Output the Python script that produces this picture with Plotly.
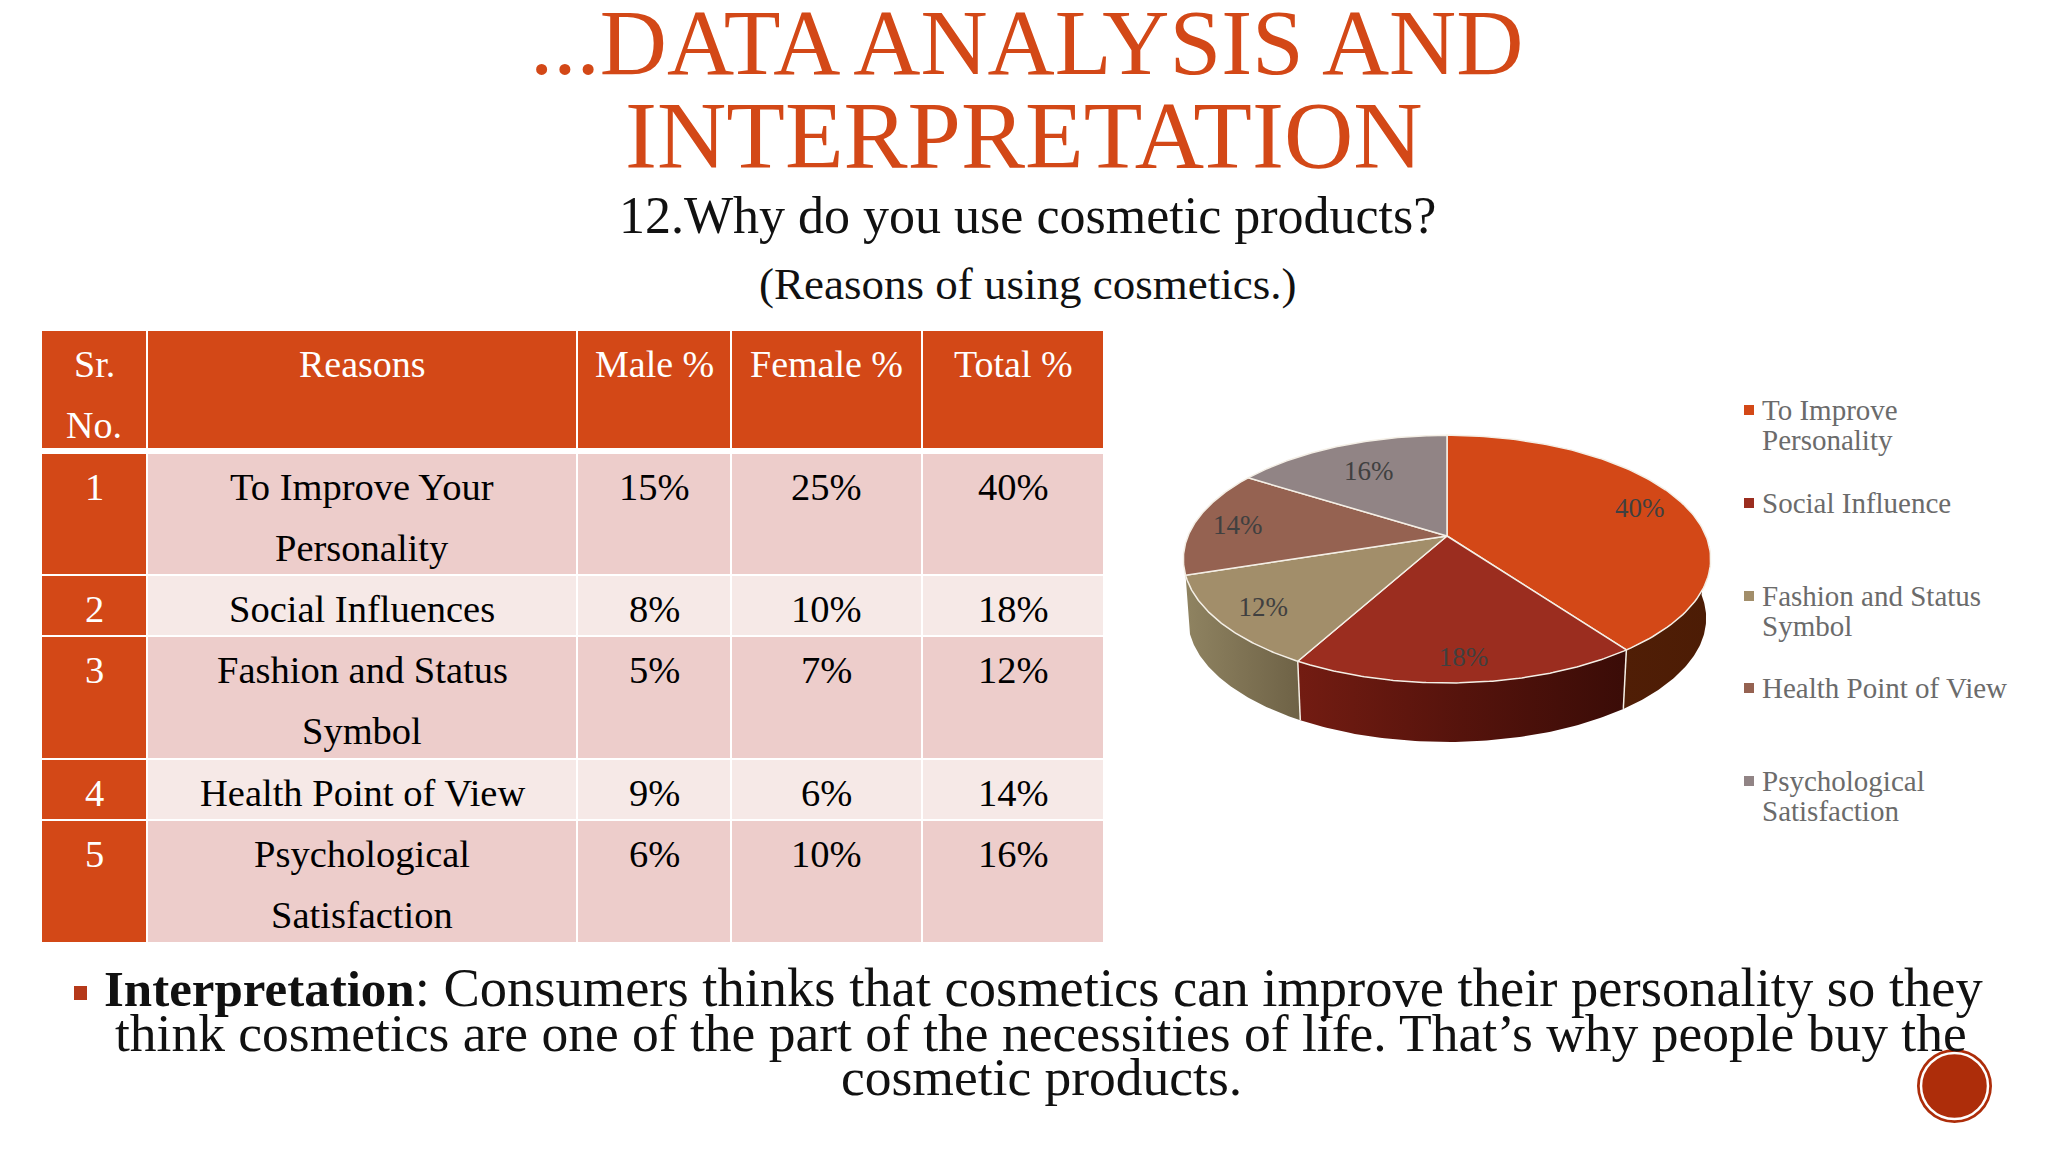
import numpy as np
import plotly.graph_objects as go

# значения таблицы и диаграммы
sr_no = ["1", "2", "3", "4", "5"]
reasons = ["To Improve Your\nPersonality", "Social Influences", "Fashion and Status\nSymbol",
           "Health Point of View", "Psychological\nSatisfaction"]
male_pct = [15, 8, 5, 9, 6]
female_pct = [25, 10, 7, 6, 10]
total_pct = [40, 18, 12, 14, 16]
header = ["Sr.\nNo.", "Reasons", "Male %", "Female %", "Total %"]
legend_labels = ["To Improve\nPersonality", "Social Influence", "Fashion and Status\nSymbol",
                 "Health Point of View", "Psychological\nSatisfaction"]

ORANGE = "#d34817"
slice_colors = [ORANGE, "#9b2d1f", "#a28e6a", "#956251", "#918485"]
wall_colors = [["#501e06", "#4c1c05"], ["#731c12", "#55130c", "#3a0c07"], ["#8f8361", "#6e6246"], None, None]

FONT = "Liberation Serif"
col_edges = [41, 147, 577, 731, 922, 1104]
row_edges = [330, 449, 453, 575, 636, 759, 820, 943]
LINE_GAP = 61.4

# проекция круга в перспективе
X0, Y0, A, B, K = 1447, 536, 259, 119.5, 0.187
DEPTH = 59


def project(theta, r=1.0):
    u = np.sin(theta) * r
    v = -np.cos(theta) * r
    w = 1 - K * v
    return X0 + A * u / w, Y0 + B * v / w


fig = go.Figure()
shapes = []
annotations = []


def add_text(x, y, text, size, color="black", anchor="center"):
    annotations.append(dict(x=x, y=y, text=text, showarrow=False, xanchor=anchor, yanchor="middle",
                            font=dict(family=FONT, size=size, color=color)))


def add_cell(x0, x1, y0, y1, color):
    shapes.append(dict(type="rect", x0=x0, x1=x1, y0=y0, y1=y1, fillcolor=color,
                       line=dict(color="white", width=2), layer="below"))


# заголовки
add_text(1026, 42, "...DATA ANALYSIS AND", 93, ORANGE)
add_text(1024, 135, "INTERPRETATION", 96, ORANGE)
add_text(1027, 215, "12.Why do you use cosmetic products?", 52, "#111111")
add_text(1027, 284, "(Reasons of using cosmetics.)", 45, "#111111")

# таблица
for c in range(5):
    add_cell(col_edges[c], col_edges[c + 1], row_edges[0], row_edges[1], ORANGE)
    for i, line in enumerate(header[c].split("\n")):
        add_text((col_edges[c] + col_edges[c + 1]) / 2, 364 + i * LINE_GAP, line, 38, "white")

for r in range(5):
    top, bottom = row_edges[r + 2], row_edges[r + 3]
    row_color = "#edcdcb" if r % 2 == 0 else "#f6e9e7"
    values = [sr_no[r], reasons[r], f"{male_pct[r]}%", f"{female_pct[r]}%", f"{total_pct[r]}%"]
    for c in range(5):
        add_cell(col_edges[c], col_edges[c + 1], top, bottom, ORANGE if c == 0 else row_color)
        for i, line in enumerate(values[c].split("\n")):
            add_text((col_edges[c] + col_edges[c + 1]) / 2, top + 34 + i * LINE_GAP, line, 38.5,
                     "white" if c == 0 else "black")

# пирог: сначала боковые стенки, потом верх
bounds = np.cumsum([0] + total_pct) / sum(total_pct) * 2 * np.pi
front_start, front_end = np.pi / 2, bounds[3]
edge_x, edge_y = [], []
for i in range(5):
    t0, t1 = max(bounds[i], front_start), min(bounds[i + 1], front_end)
    if wall_colors[i] is None or t0 >= t1:
        continue
    th = np.linspace(t0, t1, 80)
    tx, ty = project(th)
    bx, by = X0 + (tx - X0) * 0.983, ty + DEPTH
    stops = np.linspace(0, 1, len(wall_colors[i]))
    fig.add_trace(go.Scatter(x=np.r_[tx, bx[::-1]], y=np.r_[ty, by[::-1]], mode="lines", fill="toself",
                             line=dict(width=0), hoverinfo="skip", showlegend=False,
                             fillgradient=dict(type="horizontal",
                                               colorscale=[[s, col] for s, col in zip(stops, wall_colors[i])])))
    if i > 0:
        edge_x += [tx[0], bx[0], None]
        edge_y += [ty[0], by[0], None]
fig.add_trace(go.Scatter(x=edge_x, y=edge_y, mode="lines", line=dict(color="#f4efe6", width=1.5),
                         hoverinfo="skip", showlegend=False))

for i in range(5):
    th = np.linspace(bounds[i], bounds[i + 1], 120)
    ax, ay = project(th)
    fig.add_trace(go.Scatter(x=np.r_[X0, ax, X0], y=np.r_[Y0, ay, Y0], mode="lines", fill="toself",
                             fillcolor=slice_colors[i], line=dict(color="#f4efe6", width=1.5),
                             hoverinfo="skip", showlegend=False))

label_r = [0.82, 0.85, 0.83, 0.83, 0.7]
mid = (bounds[:-1] + bounds[1:]) / 2
lx, ly = project(mid, np.array(label_r))
fig.add_trace(go.Scatter(x=lx, y=ly + 3, mode="text", text=[f"{v}%" for v in total_pct],
                         textfont=dict(family=FONT, size=27, color="#404040"),
                         hoverinfo="skip", showlegend=False))

# легенда
legend_y = [410, 503, 596, 688, 781]
fig.add_trace(go.Scatter(x=[1749] * 5, y=legend_y, mode="markers",
                         marker=dict(symbol="square", size=10, color=slice_colors),
                         hoverinfo="skip", showlegend=False))
for i, lab in enumerate(legend_labels):
    for j, line in enumerate(lab.split("\n")):
        add_text(1760, legend_y[i] + j * 30, line, 29, "#6b6b6b", "left")

# вывод
shapes.append(dict(type="rect", x0=74, x1=87, y0=986, y1=1000, fillcolor="#b5391a", line=dict(width=0)))
add_text(102, 987, '<span style="font-size:51px"><b>Interpretation</b></span>: Consumers thinks that cosmetics can improve their personality so they',
         54.5, "#111111", "left")
add_text(1041, 1033, "think cosmetics are one of the part of the necessities of life. That’s why people buy the",
         53.5, "#111111")
add_text(1041, 1077, "cosmetic products.", 53.5, "#111111")

# кружок в углу
shapes.append(dict(type="circle", x0=1917, x1=1992, y0=1049, y1=1123, fillcolor="#ad2d0a", line=dict(width=0)))
shapes.append(dict(type="circle", x0=1921, x1=1988, y0=1053, y1=1119, fillcolor="#ad2d0a",
                   line=dict(color="white", width=2.5)))

fig.update_layout(
    width=2048, height=1152, margin=dict(l=0, r=0, t=0, b=0),
    paper_bgcolor="white", plot_bgcolor="white",
    xaxis=dict(range=[0, 2048], visible=False, fixedrange=True),
    yaxis=dict(range=[1152, 0], visible=False, fixedrange=True),
    shapes=shapes, annotations=annotations,
)
fig.write_html("out.html", config=dict(displayModeBar=False),
               post_script="document.body.style.margin='0';")
